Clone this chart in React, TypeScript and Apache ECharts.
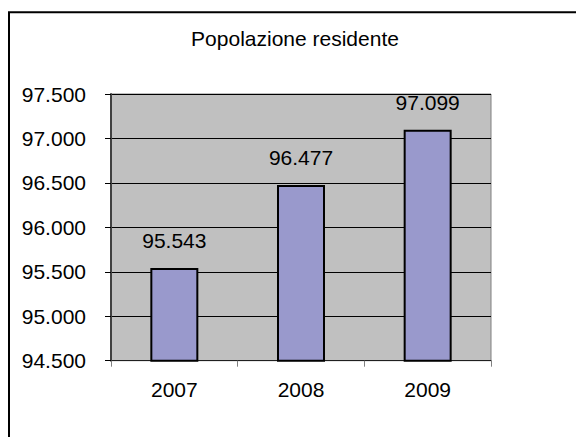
import React, { useEffect, useRef } from "react";
import * as echarts from "echarts";

// Resident population by year
const years: string[] = ["2007", "2008", "2009"];
const population: number[] = [95543, 96477, 97099];

// Value axis range
const yMin = 94500;
const yMax = 97500;
const yStep = 500;

const FONT = "Liberation Sans, Arial, sans-serif";

// Italian thousands separator: 97500 -> "97.500"
const fmt = (v: number): string =>
  String(Math.round(v)).replace(/\B(?=(\d{3})+(?!\d))/g, ".");

export default function App() {
  const ref = useRef<HTMLDivElement>(null);

  useEffect(() => {
    if (!ref.current) return;
    const chart = echarts.init(ref.current, null, { renderer: "svg" });
    chart.setOption({
      animation: false,
      backgroundColor: "#ffffff",
      title: {
        text: "Popolazione residente",
        left: 295,
        top: 28,
        textAlign: "center",
        padding: 0,
        textStyle: {
          fontFamily: FONT,
          fontSize: 21,
          fontWeight: "normal",
          color: "#000000",
        },
      },
      graphic: [
        {
          type: "rect",
          shape: { x: 9, y: 12.3, width: 620, height: 500 },
          style: { fill: "none", stroke: "#000000", lineWidth: 2 },
          silent: true,
          z: 100,
        },
      ],
      grid: {
        left: 111,
        right: 85,
        top: 94,
        bottom: 76.3,
        show: true,
        backgroundColor: "#C0C0C0",
        borderColor: "#808080",
        borderWidth: 1,
      },
      xAxis: {
        type: "category",
        data: years,
        boundaryGap: true,
        axisLine: { show: true, lineStyle: { color: "#202020", width: 1 } },
        axisTick: {
          show: true,
          alignWithLabel: false,
          length: 6,
          lineStyle: { color: "#808080", width: 1 },
        },
        axisLabel: {
          margin: 18,
          fontFamily: FONT,
          fontSize: 21,
          color: "#000000",
        },
        splitLine: { show: false },
      },
      yAxis: {
        type: "value",
        min: yMin,
        max: yMax,
        interval: yStep,
        axisLine: { show: true, lineStyle: { color: "#404040", width: 2 } },
        axisTick: {
          show: true,
          length: 6,
          lineStyle: { color: "#000000", width: 1 },
        },
        axisLabel: {
          margin: 25,
          fontFamily: FONT,
          fontSize: 21,
          color: "#000000",
          formatter: (v: number) => fmt(v),
        },
        splitLine: { show: true, lineStyle: { color: "#000000", width: 1 } },
      },
      series: [
        {
          type: "bar",
          data: population,
          barWidth: 48,
          itemStyle: {
            color: "#9999CC",
            borderColor: "#000000",
            borderWidth: 2,
          },
          label: {
            show: true,
            position: "top",
            distance: 17,
            fontFamily: FONT,
            fontSize: 21,
            color: "#000000",
            formatter: (p: any) => fmt(p.value),
          },
        },
      ],
    });
    return () => chart.dispose();
  }, []);

  return (
    <div
      ref={ref}
      style={{
        position: "fixed",
        left: 0,
        top: 0,
        width: 576,
        height: 437,
      }}
    />
  );
}
